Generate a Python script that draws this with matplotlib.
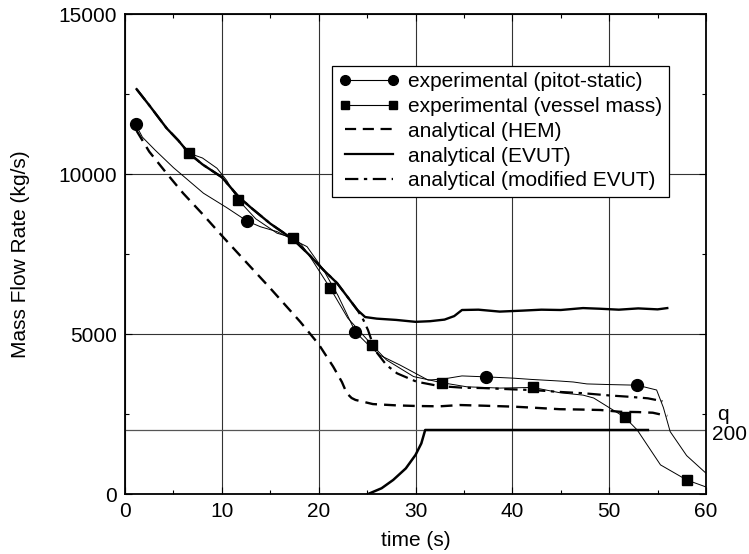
import matplotlib
matplotlib.use("Agg")
import matplotlib.pyplot as plt
from matplotlib.lines import Line2D
from matplotlib.ticker import MultipleLocator

plt.rcParams['font.family'] = ['Liberation Sans', 'DejaVu Sans']

# ---------------- data ----------------
evut_t = [1.2, 2.5, 4.3, 5.5, 6.6, 8.0, 10.0, 11.7, 13.0, 15.0, 17.4, 19.0, 20.5, 21.9,
          23.0, 24.0, 24.8, 26.0, 28.0, 30.0, 31.5, 33.0, 34.0, 34.8, 36.5, 38.7, 41.0, 43.0,
          45.0, 47.3, 49.0, 51.0, 53.0, 55.0, 56.0]
evut_y = [12650, 12150, 11430, 11050, 10650, 10300, 9900, 9300, 8950, 8450, 7950, 7480, 7000, 6590,
          6150, 5750, 5530, 5480, 5440, 5380, 5400, 5450, 5560, 5750, 5760, 5700, 5730, 5760,
          5750, 5810, 5790, 5760, 5800, 5770, 5810]

mod_t = [1.2, 2.5, 4.3, 5.5, 6.6, 8.0, 10.0, 11.7, 13.0, 15.0, 17.4, 19.0, 20.5, 21.9,
         23.0, 24.0, 24.6, 25.1, 25.8, 27.0, 28.1, 30.1, 32.5, 35.0, 37.0, 40.0, 42.0, 44.9,
         47.3, 50.0, 52.0, 54.0, 55.5]
mod_y = [12650, 12150, 11430, 11050, 10650, 10300, 9900, 9300, 8950, 8450, 7950, 7480, 7000, 6590,
         6150, 5750, 5450, 5120, 4500, 4030, 3770, 3510, 3370, 3320, 3310, 3270, 3250, 3190,
         3150, 3080, 3040, 2990, 2900]

hem_t = [1.2, 2.5, 4.3, 6.0, 8.0, 10.1, 12.5, 15.0, 18.1, 20.0, 21.5, 22.4, 22.9, 23.4, 23.8,
         25.6, 28.0, 30.1, 32.5, 34.6, 37.0, 40.1, 42.0, 44.9, 47.0, 49.1, 51.1, 53.0, 54.5, 56.0]
hem_y = [11350, 10700, 10020, 9400, 8750, 8040, 7250, 6430, 5380, 4680, 3980, 3500, 3150, 3000, 2940,
         2810, 2770, 2750, 2740, 2780, 2760, 2730, 2700, 2650, 2640, 2625, 2570, 2560, 2540, 2440]

pitot_t = [1.1, 1.8, 3.1, 5.0, 8.1, 10.5, 12.6, 14.0, 15.7, 18.8, 20.5, 22.0, 23.8, 25.0, 26.3,
           28.4, 31.3, 33.0, 34.8, 37.3, 40.1, 42.0, 44.9, 46.3, 47.7, 50.0, 52.9, 54.9, 55.6,
           56.3, 58.0, 60.0]
pitot_y = [11550, 11150, 10750, 10200, 9400, 8950, 8530, 8350, 8200, 7730, 7000, 6200, 5060, 4700, 4340,
           4030, 3560, 3600, 3690, 3660, 3620, 3580, 3530, 3500, 3440, 3420, 3400, 3250, 2700,
           1950, 1200, 650]
pitot_mk_t = [1.1, 12.6, 23.8, 37.3, 52.9]
pitot_mk_y = [11550, 8530, 5060, 3660, 3400]

vessel_t = [6.6, 8.0, 9.5, 10.5, 11.7, 13.5, 15.7, 17.4, 18.2, 19.1, 21.2, 23.0, 25.5, 27.0, 29.8,
            32.7, 35.3, 38.7, 42.1, 44.9, 47.3, 48.4, 51.6, 52.9, 55.3, 58.0, 60.0]
vessel_y = [10650, 10500, 10180, 9800, 9190, 8600, 8150, 8000, 7800, 7420, 6430, 5500, 4660, 4190, 3670,
            3480, 3350, 3310, 3330, 3165, 3090, 3000, 2400, 2000, 910, 440, 220]
vessel_mk_t = [6.6, 11.7, 17.4, 21.2, 25.5, 32.7, 42.1, 51.6, 58.0]
vessel_mk_y = [10650, 9190, 8000, 6430, 4660, 3480, 3330, 2400, 440]

q_t = [25.1, 26.5, 27.7, 29.0, 30.0, 30.6, 31.0, 54.0]
q_y = [0, 180, 440, 800, 1220, 1580, 2000, 2000]
q_level = 2000

labels = ["experimental (pitot-static)", "experimental (vessel mass)",
          "analytical (HEM)", "analytical (EVUT)", "analytical (modified EVUT)"]

FS = 15

# ---------------- figure ----------------
fig = plt.figure(figsize=(7.49, 5.54), dpi=100)
ax = fig.add_axes([125/749, 1-494/554, 581/749, 480/554])

ax.set_xlim(0, 60)
ax.set_ylim(0, 15000)
ax.xaxis.set_major_locator(MultipleLocator(10))
ax.xaxis.set_minor_locator(MultipleLocator(5))
ax.yaxis.set_major_locator(MultipleLocator(5000))
ax.yaxis.set_minor_locator(MultipleLocator(2500))
ax.tick_params(which='both', direction='in', top=True, right=True, labelsize=FS, width=0.8)
ax.tick_params(which='major', length=5, pad=6)
ax.tick_params(which='minor', length=3)
for s in ax.spines.values():
    s.set_linewidth(1.3)
ax.grid(True, which='major', color='#333333', linewidth=0.8)
ax.set_axisbelow(True)

ax.axhline(q_level, color='#555555', linewidth=0.9, zorder=1.5)

ax.plot(q_t, q_y, color='black', linewidth=1.8, zorder=3)
ax.plot(hem_t, hem_y, color='black', linewidth=1.7, linestyle=(0, (5, 3)), zorder=3)
ax.plot(evut_t, evut_y, color='black', linewidth=1.7, zorder=3)
ax.plot(mod_t, mod_y, color='black', linewidth=1.6, linestyle=(0, (6, 2.5, 1.5, 2.5)), zorder=3.2)
ax.plot(pitot_t, pitot_y, color='black', linewidth=0.7, zorder=4)
ax.plot(vessel_t, vessel_y, color='black', linewidth=0.7, zorder=4)
ax.plot(pitot_mk_t, pitot_mk_y, linestyle='none', marker='o', markersize=8.5, color='black', zorder=5)
ax.plot(vessel_mk_t, vessel_mk_y, linestyle='none', marker='s', markersize=7, color='black', zorder=5)

handles = [
    Line2D([], [], color='black', linewidth=0.8, marker='o', markersize=7),
    Line2D([], [], color='black', linewidth=0.8, marker='s', markersize=6),
    Line2D([], [], color='black', linewidth=1.6, linestyle=(0, (5, 3))),
    Line2D([], [], color='black', linewidth=1.6),
    Line2D([], [], color='black', linewidth=1.6, linestyle=(0, (6, 2.5, 1.5, 2.5))),
]
leg = ax.legend(handles, labels, loc='upper left', bbox_to_anchor=(0.357, 0.892),
                numpoints=2, fontsize=FS, frameon=True, fancybox=False,
                edgecolor='black', framealpha=1, borderpad=0.3, labelspacing=0.28,
                handlelength=2.9, handletextpad=0.45, borderaxespad=0)
leg.get_frame().set_linewidth(0.9)
leg.set_zorder(6)

ax.set_xlabel('time (s)', fontsize=FS, labelpad=7)
ax.set_ylabel('Mass Flow Rate (kg/s)', fontsize=FS, labelpad=20)

fig.text(723/749, 1-414/554, 'q', fontsize=FS, ha='center', va='center')
fig.text(712/749, 1-434/554, '200', fontsize=FS, ha='left', va='center')

fig.savefig('out.png', dpi=100)
